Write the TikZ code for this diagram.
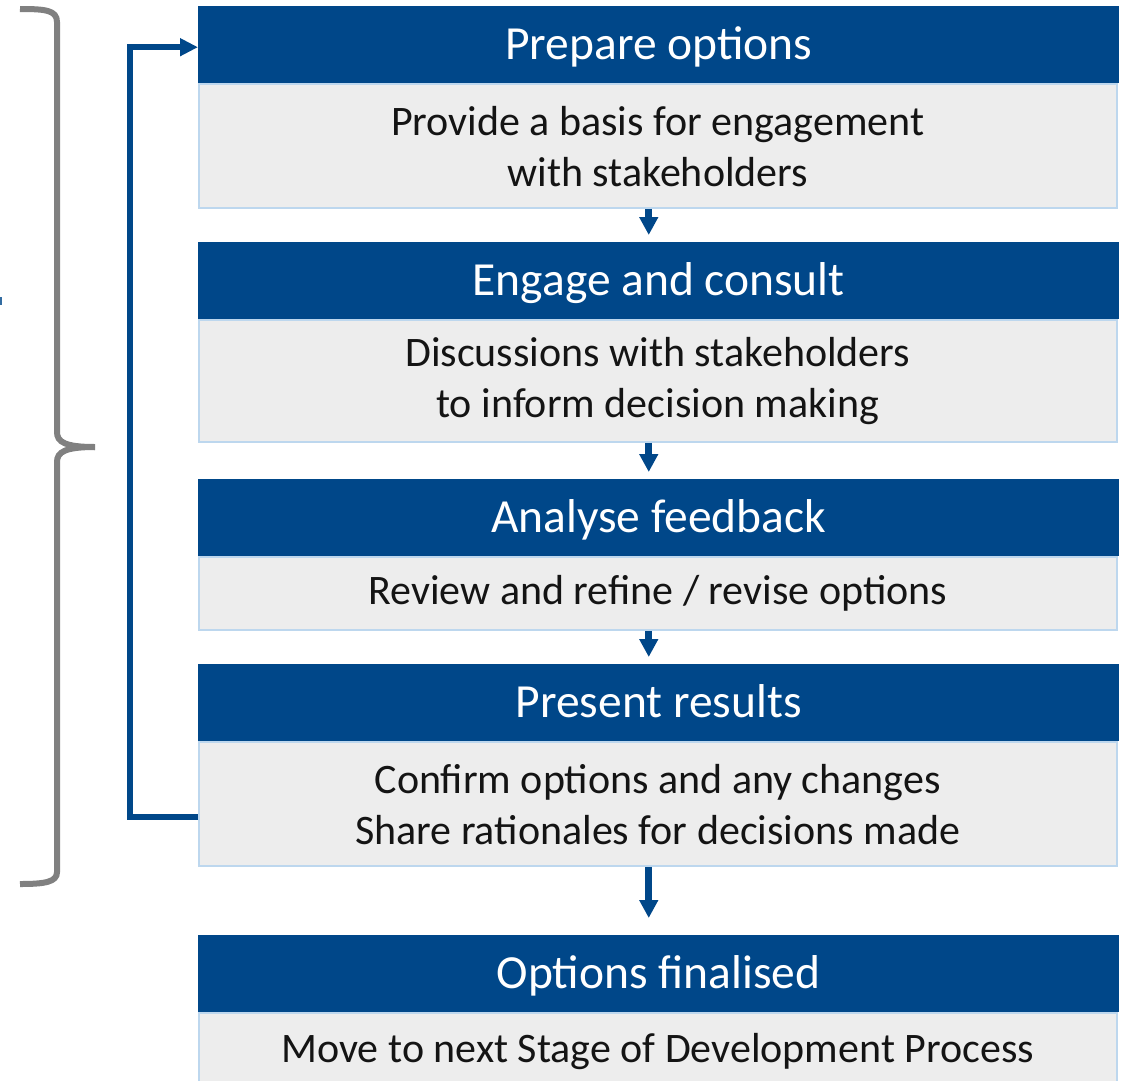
\documentclass[tikz,border=0pt]{standalone}
\usepackage{fontspec}
\setmainfont{Carlito}
\usetikzlibrary{arrows.meta,positioning}
\definecolor{stageblue}{RGB}{0,71,137}
\definecolor{bodygray}{RGB}{237,237,237}
\definecolor{edgeblue}{RGB}{189,215,238}
\definecolor{bracegray}{RGB}{128,128,128}
\definecolor{bodytext}{RGB}{20,20,20}

\begin{document}
\begin{tikzpicture}[x=1pt,y=-1pt,>={Triangle[length=18pt,width=18pt]}]
  \tikzstyle{stagehead}=[rectangle,fill=stageblue,text=white,minimum width=921pt,minimum height=77pt,inner sep=0pt,text height=35pt,text depth=5pt,font=\fontsize{47.5}{56}\selectfont,anchor=north west]
  \tikzstyle{stagebody}=[rectangle,draw=edgeblue,line width=1.5pt,fill=bodygray,text=bodytext,minimum width=918pt,inner sep=0pt,align=center,font=\fontsize{42}{51}\selectfont,anchor=north west]
  \tikzstyle{flow}=[->,draw=stageblue,line width=7pt]

  \useasboundingbox (0,0) rectangle (1127,1080);

  \node[stagehead] (prep) at (198,6) {Prepare options};
  \node[stagebody,minimum height=124pt] (prepbody) at (prep.south west) {Provide a basis for engagement\\with stakeholders};

  \node[stagehead] (engage) at (198,242) {Engage and consult};
  \node[stagebody,minimum height=122pt] (engagebody) at (engage.south west) {Discussions with stakeholders\\to inform decision making};

  \node[stagehead] (analyse) at (198,479) {Analyse feedback};
  \node[stagebody,minimum height=73pt] (analysebody) at (analyse.south west) {Review and refine / revise options};

  \node[stagehead] (present) at (198,664) {Present results};
  \node[stagebody,minimum height=124pt] (presentbody) at (present.south west) {Confirm options and any changes\\Share rationales for decisions made};

  \node[stagehead] (final) at (198,935) {Options finalised};
  \node[stagebody,minimum height=76pt] (finalbody) at (final.south west) {Move to next Stage of Development Process};

  \draw[flow,shorten >=7pt] ([xshift=-9pt]prepbody.south) -- ([xshift=-9pt]prepbody.south |- engage.north);
  \draw[flow,shorten >=7pt] ([xshift=-9pt]engagebody.south) -- ([xshift=-9pt]engagebody.south |- analyse.north);
  \draw[flow,shorten >=7pt] ([xshift=-9pt]analysebody.south) -- ([xshift=-9pt]analysebody.south |- present.north);
  \draw[flow,shorten >=17pt] ([xshift=-9pt]presentbody.south) -- ([xshift=-9pt]presentbody.south |- final.north);

  % feedback loop back to the first stage
  \draw[->,draw=stageblue,line width=5.5pt,>={Triangle[length=18pt,width=17pt]}] ([yshift=-13pt]presentbody.west) -- ++(-68,0) |- ([yshift=-2.5pt]prep.west);

  % brace
  \draw[bracegray,line width=6pt] (20,9) .. controls (45,9) and (57,10) .. (57,22) -- (57,432) .. controls (57,442) and (65,447) .. (95,447);
  \draw[bracegray,line width=6pt] (95,447) .. controls (65,447) and (57,452) .. (57,462) -- (57,872) .. controls (57,882) and (45,884) .. (20,884);

  \fill[stageblue!80!white] (0,297) rectangle (2,305);
\end{tikzpicture}
\end{document}
